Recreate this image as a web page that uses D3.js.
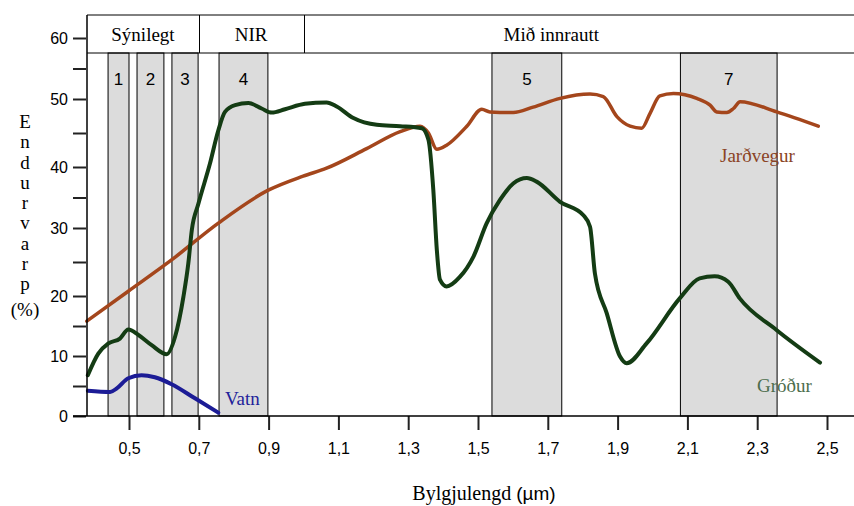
<!DOCTYPE html>
<html lang="is">
<head>
<meta charset="UTF-8">
<title>Endurvarp</title>
<script src="https://d3js.org/d3.v7.min.js"></script>
<style>
  body { margin: 0; background: #fff; }
  svg { display: block; }
</style>
</head>
<body>
<svg width="854" height="506"></svg>
<script>
// bylgjulengd (µm), endurvarp (%)
const grodur = [
  [0.382, 6.8], [0.412, 10.4], [0.441, 12.1], [0.474, 12.9], [0.498, 14.4],
  [0.527, 13.5], [0.565, 11.8], [0.608, 10.3], [0.632, 13.2], [0.656, 19.9],
  [0.670, 24.8], [0.680, 29.7], [0.699, 34.0], [0.732, 40.5], [0.756, 45.4],
  [0.775, 48.1], [0.804, 49.1], [0.842, 49.4], [0.880, 48.6], [0.909, 48.0],
  [0.947, 48.5], [1.004, 49.3], [1.066, 49.5], [1.095, 48.9], [1.143, 47.2],
  [1.210, 46.2], [1.277, 46.0], [1.339, 45.7], [1.358, 44.0], [1.372, 36.2],
  [1.382, 26.8], [1.391, 22.4], [1.410, 21.4], [1.448, 22.8], [1.487, 25.8],
  [1.525, 30.8], [1.563, 34.6], [1.601, 37.3], [1.640, 38.2], [1.668, 37.6],
  [1.735, 34.3], [1.802, 32.1], [1.821, 30.2], [1.835, 23.3], [1.869, 17.1],
  [1.907, 9.9], [1.926, 8.8], [1.983, 12.1], [2.078, 19.6], [2.135, 22.6],
  [2.178, 22.9], [2.217, 22.1], [2.250, 19.6], [2.356, 14.3], [2.480, 8.9]
];

const jardvegur = [
  [0.379, 15.8], [0.498, 20.7], [0.622, 25.3], [0.756, 30.8], [0.899, 36.2],
  [0.999, 38.5], [1.066, 39.8], [1.181, 42.7], [1.277, 45.2], [1.334, 46.0],
  [1.358, 45.0], [1.382, 42.6], [1.410, 43.2], [1.468, 46.0], [1.511, 48.5],
  [1.534, 48.1], [1.601, 48.0], [1.658, 48.8], [1.735, 50.1], [1.821, 50.8],
  [1.859, 50.4], [1.898, 47.4], [1.936, 46.0], [1.969, 45.7], [1.993, 47.9],
  [2.021, 50.5], [2.060, 50.9], [2.127, 50.1], [2.165, 49.1], [2.184, 48.1],
  [2.213, 48.0], [2.232, 48.6], [2.251, 49.6], [2.356, 48.1], [2.475, 46.0]
];

const vatn = [
  [0.382, 4.2], [0.446, 4.0], [0.465, 4.6], [0.498, 6.3], [0.536, 6.8],
  [0.574, 6.45], [0.622, 5.3], [0.689, 2.95], [0.756, 0.55]
];

const bandNames = ["1", "2", "3", "4", "5", "7"];
const bandStart = [0.44, 0.523, 0.623, 0.758, 1.54, 2.08];
const bandEnd   = [0.50, 0.600, 0.698, 0.898, 1.74, 2.357];

const regionNames = ["Sýnilegt", "NIR", "Mið innrautt"];
const regionEdges = [0.7, 1.0];
const regionLabelAt = [0.54, 0.85, 1.71];

const xTicks = [0.5, 0.7, 0.9, 1.1, 1.3, 1.5, 1.7, 1.9, 2.1, 2.3, 2.5];
const yTicks = d3.range(0, 61, 5);
const yLetters = ["E", "n", "d", "u", "r", "v", "a", "r", "p"];

const SERIF = '"Liberation Serif", "Times New Roman", serif';
const SANS = '"Liberation Sans", Arial, sans-serif';

const svg = d3.select("svg");

const x = d3.scaleLinear().domain([0.5, 2.5]).range([129, 827]);
// the original axis is hand drawn, ticks are not evenly spaced
const y = d3.scaleLinear()
  .domain([0, 10, 20, 30, 40, 50, 60])
  .range([416, 356, 296, 228, 167, 99, 38]);

const plotLeft = 87, plotRight = 854, plotTop = 15, headerBottom = 53, plotBottom = 416;

// spectral bands
const bands = bandNames.map((n, i) => ({ name: n, a: bandStart[i], b: bandEnd[i] }));
svg.append("g").selectAll("rect")
  .data(bands)
  .enter()
  .append("rect")
  .attr("x", d => x(d.a))
  .attr("y", headerBottom)
  .attr("width", d => x(d.b) - x(d.a))
  .attr("height", plotBottom - headerBottom)
  .attr("fill", "#dcdcdc")
  .attr("stroke", "#000")
  .attr("stroke-width", 1);

svg.append("g").selectAll("text")
  .data(bands)
  .enter()
  .append("text")
  .style("font-family", SANS)
  .attr("x", d => (x(d.a) + x(d.b)) / 2)
  .attr("y", 85)
  .attr("text-anchor", "middle")
  .attr("font-size", 17)
  .text(d => d.name);

// header
svg.append("line").attr("x1", plotLeft).attr("x2", plotRight).attr("y1", plotTop).attr("y2", plotTop)
  .attr("stroke", "#000").attr("stroke-width", 1);
svg.append("line").attr("x1", plotLeft).attr("x2", plotRight).attr("y1", headerBottom).attr("y2", headerBottom)
  .attr("stroke", "#000").attr("stroke-width", 1);
svg.append("g").selectAll("line")
  .data(regionEdges)
  .enter()
  .append("line")
  .attr("x1", d => Math.round(x(d)) + 0.5)
  .attr("x2", d => Math.round(x(d)) + 0.5)
  .attr("y1", plotTop)
  .attr("y2", headerBottom)
  .attr("stroke", "#000");
svg.append("g").selectAll("text")
  .data(regionNames)
  .enter()
  .append("text")
  .style("font-family", SERIF)
  .attr("x", (d, i) => x(regionLabelAt[i]))
  .attr("y", 41)
  .attr("text-anchor", "middle")
  .attr("font-size", 19)
  .text(d => d);

// curves
const line = d3.line()
  .x(d => x(d[0]))
  .y(d => y(d[1]))
  .curve(d3.curveMonotoneX);

const series = [
  { data: jardvegur, color: "#a4461c", w: 3.5 },
  { data: grodur, color: "#143c14", w: 4 },
  { data: vatn, color: "#1c1c96", w: 4 }
];
svg.append("g").selectAll("path")
  .data(series)
  .enter()
  .append("path")
  .attr("d", d => line(d.data))
  .attr("fill", "none")
  .attr("stroke", d => d.color)
  .attr("stroke-width", d => d.w)
  .attr("stroke-linejoin", "round")
  .attr("stroke-linecap", "round");

// axes
const xAxis = svg.append("g")
  .attr("transform", `translate(0,${plotBottom})`)
  .call(d3.axisBottom(x)
    .tickValues(xTicks)
    .tickSize(14)
    .tickPadding(13)
    .tickFormat(d => d3.format(".1f")(d).replace(".", ",")));
xAxis.select(".domain").remove();
xAxis.selectAll(".tick line").attr("stroke", "#222").attr("stroke-width", 2);
xAxis.selectAll("text").style("font-family", SANS).attr("font-size", 16).attr("fill", "#000");

const yAxis = svg.append("g")
  .attr("transform", `translate(${plotLeft - 1},0)`)
  .call(d3.axisLeft(y)
    .tickValues(yTicks)
    .tickSize(13)
    .tickPadding(5)
    .tickFormat(d => d % 10 === 0 ? d : ""));
yAxis.select(".domain").remove();
yAxis.selectAll(".tick line").attr("stroke", "#222").attr("stroke-width", 2);
yAxis.selectAll("text").style("font-family", SANS).attr("font-size", 16).attr("fill", "#000");

svg.append("line").attr("x1", 73).attr("x2", plotRight).attr("y1", plotBottom).attr("y2", plotBottom)
  .attr("stroke", "#000").attr("stroke-width", 1.5);
svg.append("line").attr("x1", plotLeft).attr("x2", plotLeft).attr("y1", plotTop).attr("y2", plotBottom)
  .attr("stroke", "#000").attr("stroke-width", 1.5);

// axis titles
svg.append("g").selectAll("text")
  .data(yLetters)
  .enter()
  .append("text")
  .style("font-family", SERIF)
  .attr("x", 25)
  .attr("y", (d, i) => 128 + i * 20.25)
  .attr("text-anchor", "middle")
  .attr("font-size", 19)
  .text(d => d);
svg.append("text").style("font-family", SERIF)
  .attr("x", 25).attr("y", 316).attr("text-anchor", "middle").attr("font-size", 19)
  .text("(%)");

const xTitle = svg.append("text")
  .attr("x", 484).attr("y", 500).attr("text-anchor", "middle").attr("font-size", 20);
xTitle.append("tspan").style("font-family", SERIF).text("Bylgjulengd ");
xTitle.append("tspan").style("font-family", SANS).attr("font-size", 19).text("(µm)");

// series labels
svg.append("text").style("font-family", SERIF).attr("x", 720).attr("y", 162)
  .attr("font-size", 19).attr("fill", "#8a4325").text("Jarðvegur");
svg.append("text").style("font-family", SERIF).attr("x", 757).attr("y", 392)
  .attr("font-size", 19).attr("fill", "#4d6e4d").text("Gróður");
svg.append("text").style("font-family", SERIF).attr("x", 225).attr("y", 405)
  .attr("font-size", 19).attr("fill", "#22229a").text("Vatn");
</script>
</body>
</html>
